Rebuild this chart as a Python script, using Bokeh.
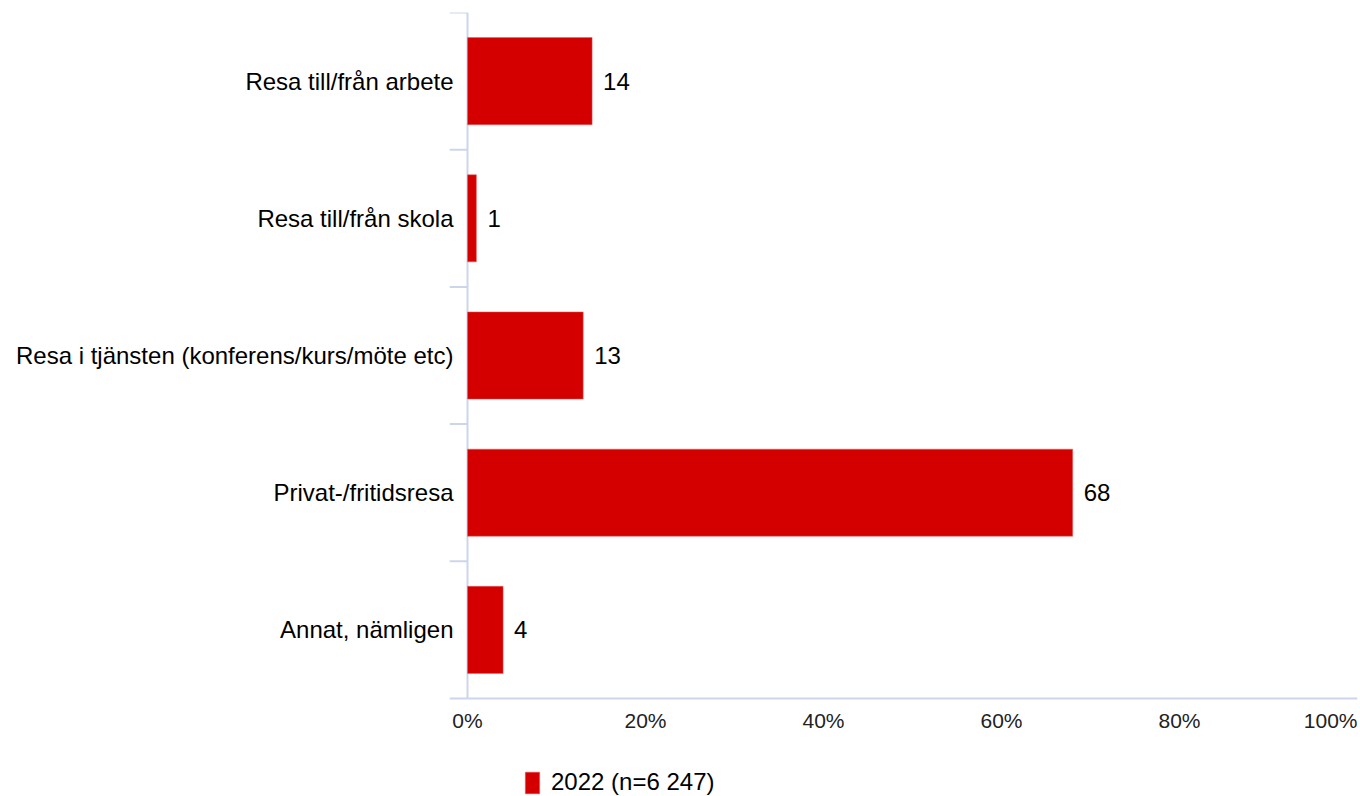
from bokeh.plotting import figure
from bokeh.models import ColumnDataSource, FixedTicker, Legend, LegendItem
from bokeh.core.properties import value
from bokeh.embed import file_html
from bokeh.resources import INLINE

categories = [
    "Resa till/från arbete",
    "Resa till/från skola",
    "Resa i tjänsten (konferens/kurs/möte etc)",
    "Privat-/fritidsresa",
    "Annat, nämligen",
]
values = [14, 1, 13, 68, 4]
series_name = "2022 (n=6 247)"
x_ticks = [0, 20, 40, 60, 80, 100]
x_tick_labels = ["0%", "20%", "40%", "60%", "80%", "100%"]

FONT = "Liberation Sans"
BAR = "#d40000"
AXIS = "#ccd6eb"

n = len(categories)
ypos = [n - i - 0.5 for i in range(n)]
boundaries = list(range(n + 1))
src = ColumnDataSource(dict(y=ypos, v=values, lbl=[str(v) for v in values]))

W, H = 1360, 796
top_border = 12
band_px = 137.2
span = (H - top_border) / band_px
frame_left = 449
axis_px = 467
frame_right = 1357
px_per_unit = (frame_right - axis_px) / 100.0
x_start = -(axis_px - frame_left) / px_per_unit

p = figure(width=W, height=H, output_backend="svg", toolbar_location=None,
           x_range=(x_start, 100), y_range=(n - span, n),
           min_border_left=frame_left, min_border_right=W - frame_right,
           min_border_top=top_border, min_border_bottom=0)
p.outline_line_color = None
p.xgrid.visible = False
p.ygrid.visible = False
p.xaxis.visible = False

# axis lines and category ticks drawn as glyphs
p.segment(x0=[0], y0=[0], x1=[0], y1=[n], line_color=AXIS, line_width=2)
p.segment(x0=[0], y0=[0], x1=[100], y1=[0], line_color=AXIS, line_width=2)
p.segment(x0=x_start, y0=boundaries, x1=0, y1=boundaries,
          line_color=AXIS, line_width=2)

r = p.hbar(y="y", right="v", left=0, height=0.635, source=src,
           fill_color=BAR, line_color="#e86060", line_width=0.5)
p.text(x="v", y="y", text="lbl", source=src, x_offset=11, text_align="left",
       text_baseline="middle", text_font=value(FONT), text_font_size="24px",
       text_color="#000000")

# x tick labels
xsrc = ColumnDataSource(dict(x=x_ticks[:-1], t=x_tick_labels[:-1]))
p.text(x="x", y=0, text="t", source=xsrc, y_offset=22, text_align="center",
       text_baseline="middle", text_font=value(FONT), text_font_size="21px",
       text_color="#222222")
xsrc2 = ColumnDataSource(dict(x=x_ticks[-1:], t=x_tick_labels[-1:]))
p.text(x="x", y=0, text="t", source=xsrc2, y_offset=22, text_align="right",
       text_baseline="middle", text_font=value(FONT), text_font_size="21px",
       text_color="#222222")

# y axis (category labels only)
yax = p.yaxis[0]
yax.ticker = FixedTicker(ticks=ypos, minor_ticks=[])
yax.major_label_overrides = {y: c for y, c in zip(ypos, categories)}
yax.major_tick_line_color = None
yax.major_tick_out = 0
yax.major_tick_in = 0
yax.minor_tick_line_color = None
yax.minor_tick_out = 0
yax.minor_tick_in = 0
yax.axis_line_color = None
yax.major_label_standoff = -4
yax.major_label_text_font = FONT
yax.major_label_text_font_size = "24px"
yax.major_label_text_color = "#000000"

legend = Legend(items=[LegendItem(label=series_name, renderers=[r])],
                location=(74, 0), orientation="horizontal",
                border_line_color=None, background_fill_alpha=0,
                glyph_width=18, glyph_height=27, label_text_font=FONT,
                label_text_font_size="24px", label_text_color="#000000",
                padding=2, margin=0, label_standoff=10, label_height=22)
p.add_layout(legend, "center")

open("out.html", "w").write(file_html(p, INLINE))
